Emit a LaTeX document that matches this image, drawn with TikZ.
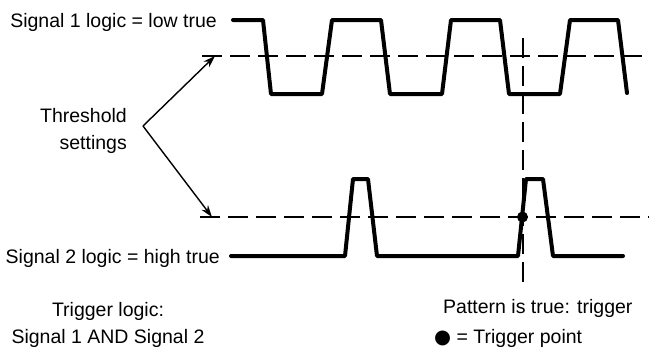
\documentclass[tikz,border=0pt]{standalone}
\usepackage{fontspec}
\setmainfont{Liberation Sans}
\newfontfamily\dotfont{DejaVu Sans}
\usetikzlibrary{arrows.meta}

\tikzset{
    wave/.style={line width=4pt, line join=round, line cap=round},
    level/.style={line width=1.2pt, dash pattern=on 20pt off 8pt},
    txt/.style={inner sep=0pt, font=\fontsize{19.5}{27}\selectfont},
}

\begin{document}
\begin{tikzpicture}[x=1pt, y=-1pt, >={Stealth[length=12pt,width=8pt]}]

            \useasboundingbox (0,0) rectangle (649,354);

            % labels
            \node [txt, anchor=base east] (sigone) at (217,27) {Signal 1 logic = low true};
            \node [txt, anchor=base east] (sigtwo) at (220,263) {Signal 2 logic = high true};
            \node [txt, anchor=north east, align=right] (thresh) at (127,108) {Threshold\\settings};
            \node [txt, anchor=north, align=center] (logic) at (108,302) {Trigger logic:\\Signal 1 AND Signal 2};
            \node [txt, anchor=base west] (pattern) at (443,313) {Pattern is true: trigger};
            \node [txt, anchor=base west] (legend) at (434,343) {{\dotfont ●} = Trigger point};

            % threshold levels
            \coordinate (thrA) at (202,56);
            \coordinate (thrAend) at (649,56);
            \coordinate (thrB) at (200,217);
            \coordinate (thrBend) at (649,217);
            \draw [level] (thrA) -- (thrAend);
            \draw [level] (thrB) -- (thrBend);

            % trigger line
            \coordinate (trigtop) at (523,38);
            \coordinate (trigbot) at (523,283);
            \draw [level] (trigtop) -- (trigbot);

            % signal 1
            \draw [wave] (233,20) -- (263,20) -- (271,94) -- (322,94) -- (332,20)
                -- (381,20) -- (390,94) -- (442,94) -- (451,20)
                -- (500,20) -- (509,94) -- (560,94) -- (570,20)
                -- (618,20) -- (627,93);

            % signal 2
            \draw [wave] (231,256) -- (345,256) -- (353,179) -- (368,179) -- (377,256)
                -- (518,256) -- (526,179) -- (543,179) -- (553,256) -- (623,256);

            % trigger point
            \fill (522.5,217) circle [radius=5.5];

            % arrows
            \coordinate (split) at (143,126);
            \coordinate (tipA) at (215,56);
            \coordinate (tipB) at (212,217);
            \draw [line width=1.4pt, ->] (split) -- (tipA);
            \draw [line width=1.4pt, ->] (split) -- (tipB);

\end{tikzpicture}
\end{document}
